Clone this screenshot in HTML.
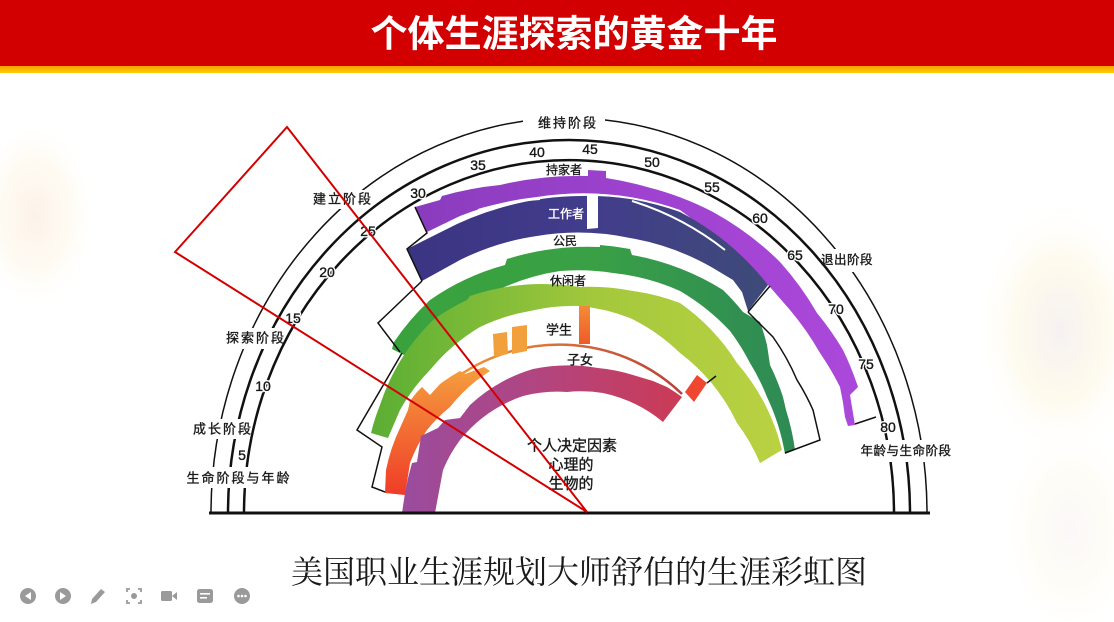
<!DOCTYPE html>
<html>
<head>
<meta charset="utf-8">
<style>
  html,body{margin:0;padding:0;background:#fff;}
  svg{display:block;}
  .t{font-family:"Liberation Sans","Noto Sans CJK SC",sans-serif;fill:#1a1a1a;}
  .b{stroke:#1a1a1a;stroke-width:0.35;}
  .h{stroke:#fff;stroke-width:3;paint-order:stroke;stroke-linejoin:round;}
</style>
</head>
<body>
<svg width="1114" height="622" viewBox="0 0 1114 622" xmlns="http://www.w3.org/2000/svg">
  <defs>
    <radialGradient id="wl" cx="0.5" cy="0.5" r="0.5">
      <stop offset="0" stop-color="#fbece0" stop-opacity="0.7"/>
      <stop offset="0.6" stop-color="#fdf6e4" stop-opacity="0.45"/>
      <stop offset="1" stop-color="#ffffff" stop-opacity="0"/>
    </radialGradient>
    <radialGradient id="wr" cx="0.5" cy="0.5" r="0.5">
      <stop offset="0" stop-color="#f4eeee" stop-opacity="0.8"/>
      <stop offset="0.55" stop-color="#fdf7e2" stop-opacity="0.6"/>
      <stop offset="1" stop-color="#ffffff" stop-opacity="0"/>
    </radialGradient>
    <linearGradient id="hy" x1="0" y1="0" x2="0" y2="1">
      <stop offset="0" stop-color="#f4a000"/>
      <stop offset="1" stop-color="#ffd000"/>
    </linearGradient>
    <linearGradient id="gP" gradientUnits="userSpaceOnUse" x1="415" y1="0" x2="860" y2="0">
      <stop offset="0" stop-color="#8a3cbd"/>
      <stop offset="0.5" stop-color="#9e42cf"/>
      <stop offset="1" stop-color="#ab48da"/>
    </linearGradient>
    <linearGradient id="gB" gradientUnits="userSpaceOnUse" x1="405" y1="0" x2="770" y2="0">
      <stop offset="0" stop-color="#3a3482"/>
      <stop offset="0.5" stop-color="#423c8c"/>
      <stop offset="1" stop-color="#3e4b78"/>
    </linearGradient>
    <linearGradient id="gG" gradientUnits="userSpaceOnUse" x1="390" y1="0" x2="795" y2="0">
      <stop offset="0" stop-color="#3aa23c"/>
      <stop offset="0.5" stop-color="#39a046"/>
      <stop offset="1" stop-color="#2e8a55"/>
    </linearGradient>
    <linearGradient id="gY" gradientUnits="userSpaceOnUse" x1="370" y1="0" x2="785" y2="0">
      <stop offset="0" stop-color="#5aae34"/>
      <stop offset="0.55" stop-color="#a4c83c"/>
      <stop offset="1" stop-color="#bad242"/>
    </linearGradient>
    <linearGradient id="gS" gradientUnits="userSpaceOnUse" x1="0" y1="495" x2="0" y2="366">
      <stop offset="0" stop-color="#f03c28"/>
      <stop offset="1" stop-color="#f4a03e"/>
    </linearGradient>
    <linearGradient id="gSL" gradientUnits="userSpaceOnUse" x1="460" y1="0" x2="682" y2="0">
      <stop offset="0" stop-color="#f0953a"/>
      <stop offset="1" stop-color="#b8403a"/>
    </linearGradient>
    <linearGradient id="gT" gradientUnits="userSpaceOnUse" x1="0" y1="306" x2="0" y2="344">
      <stop offset="0" stop-color="#f28c38"/>
      <stop offset="1" stop-color="#f05a28"/>
    </linearGradient>
    <linearGradient id="gC" gradientUnits="userSpaceOnUse" x1="402" y1="0" x2="682" y2="0">
      <stop offset="0" stop-color="#9a4c9e"/>
      <stop offset="0.5" stop-color="#b2457f"/>
      <stop offset="1" stop-color="#cc3a55"/>
    </linearGradient>
  </defs>

  <!-- background -->
  <rect x="0" y="0" width="1114" height="622" fill="#ffffff"/>
  <ellipse cx="35" cy="215" rx="60" ry="95" fill="url(#wl)"/>
  <ellipse cx="1060" cy="330" rx="85" ry="130" fill="url(#wr)"/>
  <ellipse cx="1070" cy="530" rx="70" ry="110" fill="url(#wr)" opacity="0.5"/>

  <!-- header -->
  <rect x="0" y="0" width="1114" height="66" fill="#d20000"/>
  <rect x="0" y="66" width="1114" height="7" fill="url(#hy)"/>
  <text x="574" y="34" font-size="37" font-weight="bold" fill="#ffffff" text-anchor="middle" dominant-baseline="central" font-family="'Liberation Sans','Noto Sans CJK SC',sans-serif">个体生涯探索的黄金十年</text>

  <!-- bands -->
  <!-- 持家者 purple -->
  <path fill="url(#gP)" d="M 415 207 L 440 200 L 442 196 A 330 330 0 0 1 500 185 A 330 330 0 0 1 588 176 L 588 170 L 606 171 L 606 178 A 320 320 0 0 1 647 187 A 300 300 0 0 1 713 212 A 300 300 0 0 1 780 262 A 300 300 0 0 1 817 313 A 300 300 0 0 1 843 350 A 300 300 0 0 1 858 387 L 850 395 L 855 425 L 848 426 L 845 417 A 290 290 0 0 0 840 387 A 290 290 0 0 0 820 353 A 290 290 0 0 0 790 310 L 770 287 A 290 290 0 0 0 727 251 A 290 290 0 0 0 680 210 A 290 290 0 0 0 630 197 A 290 290 0 0 0 537 197 A 290 290 0 0 0 460 216 L 427 232 Z"/>
  <!-- 工作者 blue -->
  <path fill="url(#gB)" d="M 407 249 L 443 231 A 290 290 0 0 1 500 208 A 290 290 0 0 1 580 196 A 290 290 0 0 1 630 199 A 290 290 0 0 1 680 212 A 270 270 0 0 1 768 285 L 748 311 L 742 292 L 733 280 L 713 268 A 250 250 0 0 0 630 238 A 250 250 0 0 0 537 236 A 250 250 0 0 0 460 260 L 422 281 Z"/>
  <path d="M 478 210 A 290 290 0 0 1 540 199" fill="none" stroke="#fff" stroke-width="2"/>
  <path d="M 632 201 A 290 290 0 0 1 725 250" fill="none" stroke="#fff" stroke-width="2"/>
  <polygon points="587,195 598,195 598,228 587,229" fill="#fff"/>
  <!-- 公民 green -->
  <path fill="url(#gG)" d="M 392 349 L 394 342 A 240 240 0 0 1 430 300 A 240 240 0 0 1 505 265 L 507 259 A 270 270 0 0 1 600 247 L 600 245 A 270 270 0 0 1 630 249 L 632 255 A 260 260 0 0 1 723 290 A 240 240 0 0 1 743 312 L 760 322 A 240 240 0 0 1 767 345 L 770 365 A 240 240 0 0 1 783 397 L 786 410 A 240 240 0 0 1 795 450 L 785 454 A 220 220 0 0 0 767 397 A 220 220 0 0 0 750 363 A 220 220 0 0 0 730 331 A 220 220 0 0 0 680 291 A 220 220 0 0 0 613 273 A 220 220 0 0 0 560 271 A 220 220 0 0 0 500 289 A 220 220 0 0 0 430 328 L 406 356 Z"/>
  <!-- 休闲者 yellow-green -->
  <path fill="url(#gY)" d="M 371 433 A 210 210 0 0 1 380 405 A 210 210 0 0 1 433 320 A 210 210 0 0 1 467 300 L 470 296 A 230 230 0 0 1 580 287 A 230 230 0 0 1 633 291 A 220 220 0 0 1 680 303 A 210 210 0 0 1 737 363 A 210 210 0 0 1 782 450 L 760 463 A 190 190 0 0 0 737 423 A 190 190 0 0 0 680 353 A 190 190 0 0 0 630 318 A 190 190 0 0 0 580 306 A 190 190 0 0 0 530 311 A 190 190 0 0 0 480 327 A 190 190 0 0 0 430 370 A 190 190 0 0 0 400 410 L 388 438 Z"/>
  <!-- 学生 -->
  <path d="M 460 375 A 175 172 0 0 1 682 394" fill="none" stroke="url(#gSL)" stroke-width="2.5"/>
  <path fill="url(#gS)" d="M 385 493 L 386 470 A 180 180 0 0 1 400 428 L 408 410 L 410 401 L 417 392 L 422 387 L 430 395 L 440 384 A 180 180 0 0 1 460 371 L 465 374 L 484 367 L 490 371 A 160 160 0 0 0 450 407 A 160 160 0 0 0 427 430 A 160 160 0 0 0 410 463 L 405 495 Z"/>
  <polygon points="493,334 507,332 508,354 494,357" fill="#f2a03c"/>
  <polygon points="512,327 527,325 527,351 512,354" fill="#f2a03c"/>
  <rect x="579" y="306" width="11" height="38" fill="url(#gT)"/>
  <polygon points="685,392 697,375 707,383 694,402" fill="#f04830"/>
  <!-- 子女 magenta -->
  <path fill="url(#gC)" d="M 402 513 L 405 493 L 408 478 L 412 463 L 417 462 L 421 436 L 438 428 L 445 420 L 460 418 L 470 405 A 160 160 0 0 1 533 369 A 170 170 0 0 1 598 368 A 170 170 0 0 1 633 375 L 653 381 L 667 387 A 170 170 0 0 1 682 397 L 663 422 A 140 140 0 0 0 603 393 A 140 140 0 0 0 567 392 A 140 140 0 0 0 523 396 A 140 140 0 0 0 460 440 A 140 140 0 0 0 443 470 L 435 513 Z"/>

  <!-- black outlines -->
  <g fill="none" stroke="#111" stroke-width="1.5" stroke-linejoin="miter">
    <polyline points="415,207 427,233 407,249 422,281"/>
    <polyline points="422,281 378,323 400,352"/>
    <polyline points="402,353 357,430 382,447 372,487 385,492"/>
    <polyline points="770,286 748,312"/>
    <path d="M 748 312 L 773 337 A 230 230 0 0 1 797 380 A 230 230 0 0 1 813 410 L 820 440 L 785 453"/>
    <polyline points="855,424 876,417"/>
    <polyline points="707,383 716,376"/>
  </g>

  <!-- stage arcs -->
  <path d="M 211 513 A 358 395 0 0 1 927 513" fill="none" stroke="#111" stroke-width="1.5"/>
  <path d="M 228 513 A 341 373 0 0 1 910 513" fill="none" stroke="#111" stroke-width="2.5"/>
  <path d="M 244 513 A 325 353 0 0 1 894 513" fill="none" stroke="#111" stroke-width="2.5"/>
  <!-- baseline -->
  <line x1="209" y1="513" x2="930" y2="513" stroke="#111" stroke-width="3"/>

  <!-- label gaps -->
  <g fill="#ffffff">
    <rect x="523" y="113" width="82" height="20"/>
    <rect x="309" y="190" width="57" height="19"/>
    <rect x="222" y="328" width="56" height="21"/>
    <rect x="190" y="419" width="56" height="20"/>
    <rect x="184" y="467" width="110" height="21"/>
    <polygon points="822,249 872,249 872,272 832,272"/>
    <rect x="860" y="440" width="92" height="22"/>
  </g>

  <!-- stage labels -->
  <g class="t b" font-size="13" text-anchor="middle" dominant-baseline="central" letter-spacing="2">
    <text x="568" y="123">维持阶段</text>
    <text x="343" y="199">建立阶段</text>
    <text x="256" y="338">探索阶段</text>
    <text x="223" y="429">成长阶段</text>
    <text x="239" y="478">生命阶段与年龄</text>
  </g>
  <g class="t b" font-size="12.5" text-anchor="middle" dominant-baseline="central" letter-spacing="0.5">
    <text x="847" y="260">退出阶段</text>
    <text x="906" y="451">年龄与生命阶段</text>
  </g>

  <!-- age ticks -->
  <g class="t h" font-size="14" text-anchor="middle" dominant-baseline="central">
    <text x="242" y="455">5</text>
    <text x="263" y="386">10</text>
    <text x="293" y="318">15</text>
    <text x="327" y="272">20</text>
    <text x="368" y="231">25</text>
    <text x="418" y="193">30</text>
    <text x="478" y="165">35</text>
    <text x="537" y="152">40</text>
    <text x="590" y="149">45</text>
    <text x="652" y="162">50</text>
    <text x="712" y="187">55</text>
    <text x="760" y="218">60</text>
    <text x="795" y="255">65</text>
    <text x="836" y="309">70</text>
    <text x="866" y="364">75</text>
    <text x="888" y="427">80</text>
  </g>
  <g class="t" font-size="14" text-anchor="middle" dominant-baseline="central" style="stroke:#1a1a1a;stroke-width:0.3">
    <text x="242" y="455">5</text>
    <text x="263" y="386">10</text>
    <text x="293" y="318">15</text>
    <text x="327" y="272">20</text>
    <text x="368" y="231">25</text>
    <text x="418" y="193">30</text>
    <text x="478" y="165">35</text>
    <text x="537" y="152">40</text>
    <text x="590" y="149">45</text>
    <text x="652" y="162">50</text>
    <text x="712" y="187">55</text>
    <text x="760" y="218">60</text>
    <text x="795" y="255">65</text>
    <text x="836" y="309">70</text>
    <text x="866" y="364">75</text>
    <text x="888" y="427">80</text>
  </g>

  <!-- role labels -->
  <g class="t b" font-size="12" text-anchor="middle" dominant-baseline="central">
    <text x="564" y="170">持家者</text>
    <text x="566" y="214" style="fill:#ffffff;stroke:#ffffff">工作者</text>
    <text x="565" y="241">公民</text>
    <text x="568" y="281">休闲者</text>
    <text x="559" y="330" font-size="13">学生</text>
    <text x="580" y="360" font-size="13">子女</text>
  </g>
  <g class="t b" font-size="15" text-anchor="middle" dominant-baseline="central">
    <text x="572" y="446">个人决定因素</text>
    <text x="571" y="465">心理的</text>
    <text x="571" y="484">生物的</text>
  </g>

  <!-- red triangle annotation -->
  <polygon points="287,127 175,252 587,512" fill="none" stroke="#d40000" stroke-width="2"/>

  <!-- caption -->
  <text x="579" y="572" font-size="32" fill="#1a1a1a" text-anchor="middle" dominant-baseline="central" font-family="'Liberation Serif','Noto Serif CJK SC',serif">美国职业生涯规划大师舒伯的生涯彩虹图</text>

  <!-- toolbar icons -->
  <g fill="#9a9a9a">
    <circle cx="28" cy="596" r="8"/>
    <polygon points="25,596 31,592 31,600" fill="#fff"/>
    <circle cx="63" cy="596" r="8"/>
    <polygon points="66,596 60,592 60,600" fill="#fff"/>
    <polygon points="91,604 92,599 101,589 105,592 96,602"/>
    <g fill="none" stroke="#9a9a9a" stroke-width="1.8">
      <path d="M 127 592 L 127 589 L 130 589 M 138 589 L 141 589 L 141 592 M 141 600 L 141 603 L 138 603 M 130 603 L 127 603 L 127 600"/>
    </g>
    <circle cx="134" cy="596" r="3"/>
    <rect x="161" y="591" width="11" height="10" rx="1.5"/>
    <polygon points="172,596 177,592 177,600"/>
    <rect x="197" y="589" width="16" height="14" rx="2.5"/>
    <rect x="200" y="593" width="10" height="1.6" fill="#fff"/>
    <rect x="200" y="597" width="7" height="1.6" fill="#fff"/>
    <circle cx="242" cy="596" r="8"/>
    <circle cx="238.5" cy="596" r="1.3" fill="#fff"/>
    <circle cx="242" cy="596" r="1.3" fill="#fff"/>
    <circle cx="245.5" cy="596" r="1.3" fill="#fff"/>
  </g>
</svg>
</body>
</html>
